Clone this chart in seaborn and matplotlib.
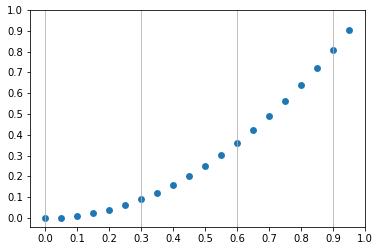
import matplotlib
matplotlib.use("Agg")
import matplotlib.pyplot as plt
import seaborn as sns

x_values = [0.0, 0.05, 0.1, 0.15, 0.2, 0.25, 0.3, 0.35, 0.4, 0.45,
            0.5, 0.55, 0.6, 0.65, 0.7, 0.75, 0.8, 0.85, 0.9, 0.95]
y_values = [0.0, 0.0025, 0.01, 0.0225, 0.04, 0.0625, 0.09, 0.1225, 0.16, 0.2025,
            0.25, 0.3025, 0.36, 0.4225, 0.49, 0.5625, 0.64, 0.7225, 0.81, 0.9025]
x_ticks = [0.0, 0.1, 0.2, 0.3, 0.4, 0.5, 0.6, 0.7, 0.8, 0.9, 1.0]
y_ticks = [0.0, 0.1, 0.2, 0.3, 0.4, 0.5, 0.6, 0.7, 0.8, 0.9, 1.0]

fig, ax = plt.subplots(figsize=(380/72, 252/72), dpi=72)
fig.subplots_adjust(left=30/380, right=365/380, bottom=25/252, top=1-10/252)
sns.scatterplot(x=x_values, y=y_values, ax=ax, color="#1f77b4", s=48, linewidth=0)
ax.set_xticks(x_ticks)
ax.set_yticks(y_ticks)
ax.set_xlim(-0.047, 1.0)
ax.set_ylim(-0.043, 1.0)
ax.tick_params(labelsize=10)
ax.grid(axis="x", color="#b0b0b0", linewidth=0.8)
for i, line in enumerate(ax.get_xgridlines()):
    line.set_visible(i % 3 == 0)
fig.savefig("out.png", dpi=72)
